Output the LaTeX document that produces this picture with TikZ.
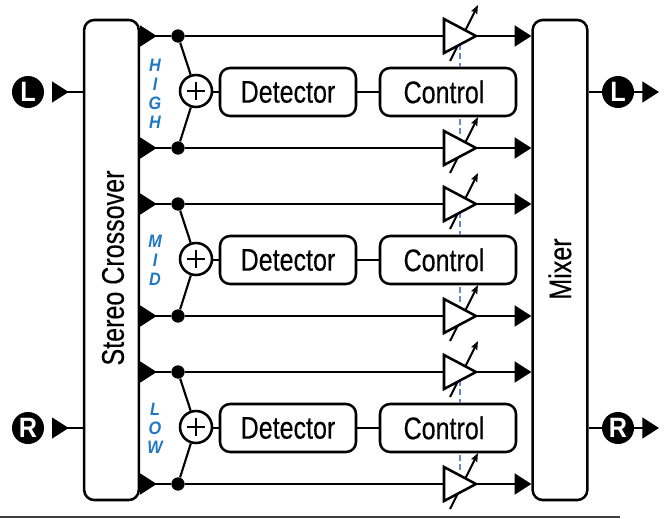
\documentclass[tikz,border=0pt]{standalone}
\usepackage{fontspec}
\setmainfont[FakeStretch=0.8,FakeBold=0.25]{Liberation Sans}
\newfontfamily\lblfont[FakeStretch=0.9]{Liberation Sans}
\usetikzlibrary{arrows.meta,shapes.geometric}
\definecolor{bandblue}{HTML}{1F78C4}
\definecolor{dashblue}{HTML}{6C86CC}
\tikzset{
  x=0.75pt,y=-0.75pt,
  wire/.style={line width=1.9pt,draw=black},
  thinwire/.style={line width=1.6pt,draw=black},
  block/.style={draw=black,line width=1.9pt,rounded corners=7.5pt,fill=white,inner sep=0pt},
  tall/.style={block,minimum width=41pt,minimum height=360pt},
  unit/.style={block,minimum width=102pt,minimum height=36pt,font=\fontsize{23.5}{26}\selectfont},
  vlabel/.style={rotate=90,font=\fontsize{23.5}{26}\selectfont,inner sep=0pt},
  dot/.style={circle,fill=black,minimum size=10pt,inner sep=0pt},
  badge/.style={circle,fill=black,text=white,minimum size=24pt,inner sep=0pt,font=\lblfont\bfseries\fontsize{21}{21}\selectfont},
  summer/.style={circle,draw=black,line width=1.9pt,fill=white,minimum size=24pt,inner sep=0pt,
    path picture={\draw[line width=1.7pt] ([xshift=-7pt]path picture bounding box.center) -- ([xshift=7pt]path picture bounding box.center)
      ([yshift=-7pt]path picture bounding box.center) -- ([yshift=7pt]path picture bounding box.center);}},
  amp/.style={isosceles triangle,isosceles triangle apex angle=56,isosceles triangle stretches=true,draw=black,
    line width=1.9pt,fill=white,minimum height=24pt,minimum width=25.5pt,inner sep=0pt,outer sep=0pt,anchor=apex},
  bigtip/.style={-{Triangle[length=12.5pt,width=15.5pt]}},
  revtip/.style={{Triangle[reversed,length=12.5pt,width=15.5pt]}-},
  gain/.style={line width=1.5pt,-{Stealth[length=6.5pt,width=5pt,inset=1pt]}},
  ctl/.style={draw=dashblue,line width=2pt,dash pattern=on 4.5pt off 2.5pt},
  band/.style={text=bandblue,font=\lblfont\bfseries\itshape\fontsize{13.5}{13.5}\selectfont,inner sep=0pt},
}
\begin{document}
\begin{tikzpicture}
\useasboundingbox (0,0) rectangle (667,518);
\node[tall] (xo) at (111.5,260) {};
\node[tall] (mix) at (560,260) {};
\node[vlabel] (xolabel) at (113,268) {Stereo Crossover};
\node[vlabel] (mixlabel) at (560,269) {Mixer};

\foreach \i/\yc in {1/92,2/260,3/428}{
  \node[unit] (det\i) at (288,\yc) {Detector};
  \node[unit] (con\i) at (448,\yc) {Control\hspace*{6pt}};
  \node[summer] (sum\i) at (196,\yc-1) {};
  \node[dot] (dt\i) at (178,\yc-56) {};
  \node[dot] (db\i) at (178,\yc+56) {};
  % control dashes
  \coordinate (ampta\i) at (460,\yc-48);
  \coordinate (ampba\i) at (460,\yc+42);
  \draw[ctl] (ampta\i) -- (ampta\i |- con\i.north);
  \draw[ctl] (ampba\i) -- (ampba\i |- con\i.south);
  % gain arrows, running behind the amplifiers
  \coordinate (gts\i) at (450,\yc-31);
  \coordinate (gte\i) at (478,\yc-87);
  \coordinate (gbs\i) at (450,\yc+81);
  \coordinate (gbe\i) at (478,\yc+25);
  \draw[gain] (gts\i) -- (gte\i);
  \draw[gain] (gbs\i) -- (gbe\i);
  % amplifiers
  \node[amp] (at\i) at (476,\yc-56) {};
  \node[amp] (ab\i) at (476,\yc+56) {};
  % wires
  \draw[wire,revtip] (xo.east |- dt\i) -- (dt\i);
  \draw[wire,revtip] (xo.east |- db\i) -- (db\i);
  \draw[wire] (dt\i) -- (at\i.west |- dt\i);
  \draw[wire] (db\i) -- (ab\i.west |- db\i);
  \draw[thinwire] (dt\i) -- (sum\i);
  \draw[thinwire] (db\i) -- (sum\i);
  \draw[wire] (sum\i.east |- det\i) -- (det\i);
  \draw[wire] (det\i) -- (con\i);
  \draw[wire,bigtip] (at\i.apex) -- (mix.west |- at\i.apex);
  \draw[wire,bigtip] (ab\i.apex) -- (mix.west |- ab\i.apex);
}

\foreach \n/\t/\y in {h1/H/65,h2/I/84,h3/G/103,h4/H/122,m1/M/241,m2/I/260,m3/D/279,l1/L/409,l2/O/428,l3/W/447}{
  \node[band] (\n) at (155,\y) {\t};
}

\foreach \s/\t/\y in {a/L/92,b/R/428}{
  \node[badge] (in\s) at (28,\y) {\t};
  \coordinate (itri\s) at (52,\y);
  \draw[wire,revtip] (itri\s) -- (xo.west |- itri\s);
  \node[badge] (out\s) at (618,\y) {\t};
  \coordinate (otip\s) at (659,\y);
  \draw[wire] (mix.east |- out\s) -- (out\s);
  \draw[wire,bigtip] (out\s) -- (otip\s);
}
\coordinate (rulea) at (0,517);
\coordinate (ruleb) at (620,517);
\draw[draw=black!75,line width=1.5pt] (rulea) -- (ruleb);
\end{tikzpicture}
\end{document}
